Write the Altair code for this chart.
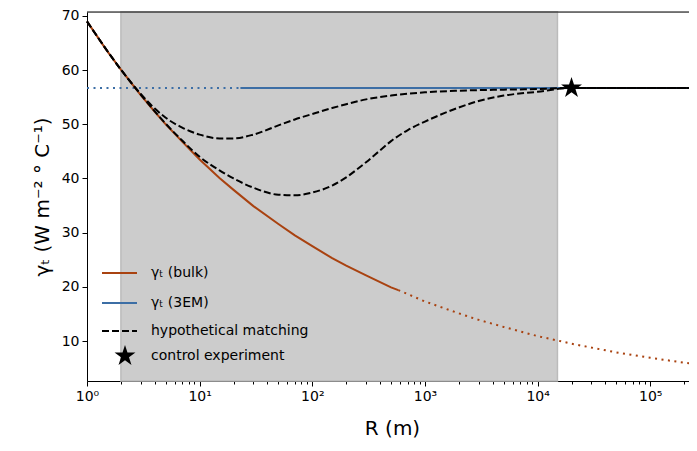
import altair as alt
import pandas as pd

# ---- data ----
R_BULK_SOLID = [1, 1.5, 2, 3, 4, 5, 7, 10, 15, 20, 30, 50, 70, 100, 150, 200, 300, 500, 580]
G_BULK_SOLID = [69.0, 63.6, 60.1, 55.4, 52.3, 50.0, 46.8, 43.5, 40.1, 37.9, 34.9, 31.6, 29.5, 27.5, 25.3, 23.9, 22.1, 19.9, 19.4]
R_BULK_DOT = [580, 1000, 2000, 3000, 5000, 10000, 15000, 20000, 50000, 100000, 200000, 260000]
G_BULK_DOT = [19.4, 17.3, 15.1, 13.9, 12.6, 10.9, 10.1, 9.5, 7.9, 6.9, 6.0, 5.7]

R_3EM_DOT = [1, 23]
R_3EM_SOLID = [23, 260000]
G_3EM = 56.7

R_HYP_A = [1, 2, 3, 4, 5, 7, 10, 15, 20, 30, 50, 70, 100, 150, 200, 300, 500, 1000, 2000, 5000, 10000, 20000, 260000]
G_HYP_A = [69.0, 60.1, 55.6, 52.9, 51.2, 49.4, 48.1, 47.4, 47.4, 48.1, 49.8, 50.9, 51.9, 53.0, 53.7, 54.6, 55.3, 55.9, 56.2, 56.4, 56.5, 56.7, 56.7]
R_HYP_B = [1, 2, 3, 5, 7, 10, 15, 20, 30, 50, 70, 100, 150, 200, 250, 300, 400, 500, 700, 1000, 1500, 2000, 3000, 5000, 10000, 20000, 260000]
G_HYP_B = [69.0, 60.1, 55.5, 50.1, 47.0, 44.0, 41.5, 40.0, 38.3, 37.0, 36.9, 37.4, 38.7, 40.2, 41.7, 43.0, 45.2, 46.9, 48.9, 50.5, 52.1, 53.1, 54.3, 55.3, 56.0, 56.7, 56.7]

SHADE = [2, 15000]
STAR_R, STAR_G = 20000, 56.7

X_MAJOR = [1, 10, 100, 1000, 10000, 100000]
X_MINOR = [m * d for d in [1, 10, 100, 1000, 10000, 100000] for m in range(2, 10) if m * d <= 260000]
Y_TICKS = [10, 20, 30, 40, 50, 60, 70]

BROWN = "#a94210"
BLUE = "#3c6ea5"
W, H = 610, 369
FONT = "DejaVu Sans"

xs = alt.Scale(type="log", domain=[1, 260000], nice=False)
ys = alt.Scale(domain=[2.62, 70.73], nice=False, zero=False)

df_bs = pd.DataFrame({"R": R_BULK_SOLID, "g": G_BULK_SOLID})
df_bd = pd.DataFrame({"R": R_BULK_DOT, "g": G_BULK_DOT})
df_ed = pd.DataFrame({"R": R_3EM_DOT, "g": [G_3EM] * len(R_3EM_DOT)})
df_es = pd.DataFrame({"R": R_3EM_SOLID, "g": [G_3EM] * len(R_3EM_SOLID)})
df_h = pd.concat([
    pd.DataFrame({"R": R_HYP_A, "g": G_HYP_A, "s": "a"}),
    pd.DataFrame({"R": R_HYP_B, "g": G_HYP_B, "s": "b"}),
])
df_shade = pd.DataFrame({"a": [SHADE[0]], "b": [SHADE[1]]})
df_star = pd.DataFrame({"R": [STAR_R], "g": [STAR_G]})

label_expr = "'10' + ['⁰','¹','²','³','⁴','⁵','⁶'][round(log(datum.value)/LN10)]"

ax_major = alt.Axis(values=X_MAJOR, labelExpr=label_expr, tickSize=5, tickColor="black",
                    domainColor="black", labelColor="black", labelFontSize=14, labelFont=FONT,
                    labelPadding=3, grid=False, orient="bottom", title="R (m)",
                    titleFontSize=20, titleFont=FONT, titleFontWeight="normal",
                    titleColor="black", titlePadding=15, labelFlush=False, labelOverlap=False)
ax_minor = alt.Axis(values=X_MINOR, labels=False, tickSize=3, tickColor="black", domain=False,
                    grid=False, orient="bottom", title=None)
ax_y = alt.Axis(values=Y_TICKS, tickSize=5, tickColor="black", domainColor="black",
                labelColor="black", labelFontSize=14, labelFont=FONT, labelPadding=3,
                grid=False, orient="left", title="γₜ (W m⁻² ° C⁻¹)", titleFontSize=20,
                titleFont=FONT, titleFontWeight="normal", titleColor="black", titlePadding=9)

STAR = "M0,-1L-0.2245,-0.309L-0.951,-0.309L-0.363,0.118L-0.588,0.809L0,0.382L0.588,0.809L0.363,0.118L0.951,-0.309L0.2245,-0.309Z"

shade = alt.Chart(df_shade).mark_rect(color="#cccccc", stroke="#bbbbbb", strokeWidth=1.5).encode(
    x=alt.X("a:Q", scale=xs, axis=ax_major), x2="b:Q",
    y=alt.value(0), y2=alt.value(H))

blue_dot = alt.Chart(df_ed).mark_line(color=BLUE, strokeWidth=2, strokeDash=[2, 4.5]).encode(
    x=alt.X("R:Q", scale=xs, axis=ax_minor), y=alt.Y("g:Q", scale=ys, axis=None))
blue_solid = alt.Chart(df_es).mark_line(color=BLUE, strokeWidth=2).encode(
    x=alt.X("R:Q", scale=xs, axis=None), y=alt.Y("g:Q", scale=ys, axis=None))
bulk_solid = alt.Chart(df_bs).mark_line(color=BROWN, strokeWidth=2).encode(
    x=alt.X("R:Q", scale=xs, axis=None), y=alt.Y("g:Q", scale=ys, axis=ax_y))
bulk_dot = alt.Chart(df_bd).mark_line(color=BROWN, strokeWidth=2, strokeDash=[2, 4.5]).encode(
    x=alt.X("R:Q", scale=xs, axis=None), y=alt.Y("g:Q", scale=ys, axis=None))
hyp = alt.Chart(df_h).mark_line(color="black", strokeWidth=2, strokeDash=[7, 3], interpolate="monotone").encode(
    x=alt.X("R:Q", scale=xs, axis=None), y=alt.Y("g:Q", scale=ys, axis=None), detail="s:N")
star = alt.Chart(df_star).mark_point(shape=STAR, size=484, filled=True, color="black", opacity=1).encode(
    x=alt.X("R:Q", scale=xs, axis=None), y=alt.Y("g:Q", scale=ys, axis=None))

top_spine = alt.Chart(df_star).mark_rule(color="black", strokeWidth=1).encode(
    x=alt.value(0), x2=alt.value(W), y=alt.value(0))

# ---- manual legend ----
LEG_ROWS = [261, 291, 319, 344]
LEG_TEXT = ["γₜ (bulk)", "γₜ (3EM)", "hypothetical matching", "control experiment"]
leg = []
leg.append(alt.Chart(df_star).mark_rule(color=BROWN, strokeWidth=2).encode(
    x=alt.value(15), x2=alt.value(50), y=alt.value(LEG_ROWS[0])))
leg.append(alt.Chart(df_star).mark_rule(color=BLUE, strokeWidth=2).encode(
    x=alt.value(15), x2=alt.value(50), y=alt.value(LEG_ROWS[1])))
leg.append(alt.Chart(df_star).mark_rule(color="black", strokeWidth=2, strokeDash=[7, 3]).encode(
    x=alt.value(15), x2=alt.value(50), y=alt.value(LEG_ROWS[2])))
leg.append(alt.Chart(df_star).mark_point(shape=STAR, size=484, filled=True, color="black", opacity=1).encode(
    x=alt.value(38), y=alt.value(LEG_ROWS[3])))
for yy, t in zip(LEG_ROWS, LEG_TEXT):
    leg.append(alt.Chart(df_star).mark_text(text=t, align="left", baseline="middle", font=FONT,
                                            fontSize=14, color="black").encode(
        x=alt.value(64), y=alt.value(yy)))

chart = alt.layer(shade, blue_dot, blue_solid, bulk_solid, bulk_dot, hyp, star, top_spine, *leg).resolve_axis(
    x="independent", y="independent").properties(
    width=W, height=H,
    autosize=alt.AutoSizeParams(type="none"),
    padding={"left": 79, "top": 4, "right": -8, "bottom": 59},
).configure_view(stroke=None).configure(font=FONT)

chart.save("out.html", embed_options={"renderer": "svg", "actions": False})
